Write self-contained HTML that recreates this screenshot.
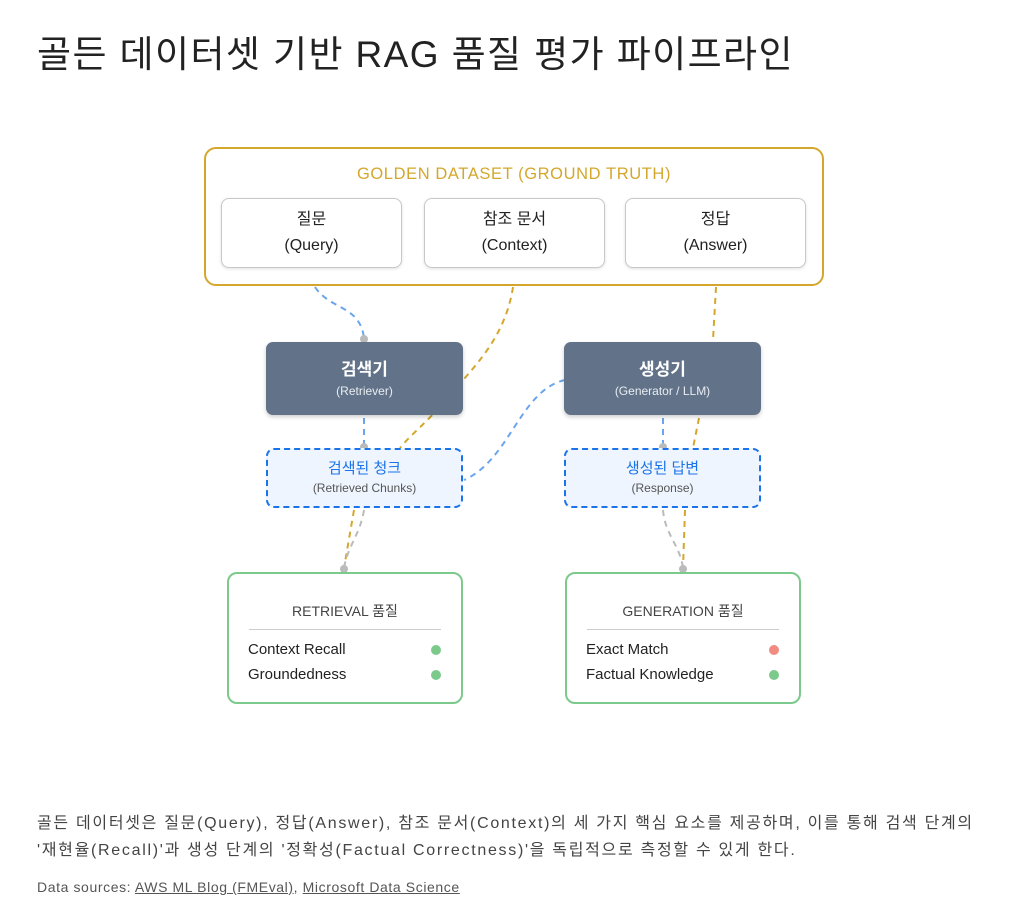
<!DOCTYPE html>
<html><head><meta charset="utf-8"><style>
*{margin:0;padding:0;box-sizing:border-box}
body{width:1024px;height:904px;background:#fff;position:relative;font-family:"Liberation Sans","Noto Sans CJK KR",sans-serif;overflow:hidden}
.a{position:absolute}
.c{text-align:center}
.inner{position:absolute;top:198px;width:181px;height:70px;border:1px solid #c8c8c8;border-radius:8px;background:#fff;text-align:center;font-size:16px;color:#222;line-height:26px;padding-top:8px;box-shadow:0 1px 3px rgba(0,0,0,.12)}
.dark{position:absolute;top:342px;width:197px;height:73px;background:#627389;border-radius:7px;color:#fff;text-align:center;box-shadow:0 2px 4px rgba(0,0,0,.2)}
.dark b{display:block;font-size:17px;margin-top:17px;line-height:22px}
.dark span{display:block;font-size:12px;margin-top:3px;color:#e8ecf2}
.out{position:absolute;top:448px;width:197px;height:60px;border:2px dashed #1a73e8;border-radius:8px;background:#eef5fe;text-align:center}
.out b{display:block;font-size:15px;color:#1a73e8;margin-top:9px;font-weight:normal;line-height:20px}
.out span{display:block;font-size:12px;color:#555;margin-top:2px}
.q{position:absolute;top:572px;height:132px;border:2px solid #7cc98c;border-radius:10px;background:#fff}
.q .t{position:absolute;top:27px;left:0;right:0;text-align:center;font-size:14px;color:#444}
.q .l{position:absolute;top:55px;left:20px;right:20px;height:1px;background:#ccc}
.q .i{position:absolute;left:19px;font-size:15px;color:#222}
.q .d{position:absolute;right:20px;width:10px;height:10px;border-radius:5px;background:#7cc98c}
</style></head><body>
<div class="a" style="left:37px;top:24px;font-size:37px;color:#222;letter-spacing:1.4px">골든 데이터셋 기반 RAG 품질 평가 파이프라인</div>

<svg class="a" style="left:0;top:0" width="1024" height="904">
<g fill="none" stroke-width="2" stroke-dasharray="6,5">
<path d="M315 287 C330 310 360 305 364 338" stroke="#6aa5ee"/>
<path d="M513 287 C505 340 470 370 455 390 C430 420 410 435 400 448" stroke="#d4a72c"/>
<path d="M716 287 L713 340" stroke="#d4a72c"/>
<path d="M364 418 L364 445" stroke="#6aa5ee"/>
<path d="M565 380 C520 390 510 460 464 480" stroke="#6aa5ee"/>
<path d="M663 418 L663 446" stroke="#6aa5ee"/>
<path d="M699 418 L693 448" stroke="#d4a72c"/>
<path d="M354 510 L344 568" stroke="#d4a72c"/>
<path d="M364 510 C360 535 348 545 344 568" stroke="#bbb"/>
<path d="M663 510 C665 535 680 545 683 568" stroke="#bbb"/>
<path d="M685 510 L683 568" stroke="#d4a72c"/>
</g>
<g fill="#bbb"><circle cx="364" cy="339" r="4"/><circle cx="364" cy="447" r="4"/><circle cx="663" cy="447" r="4"/><circle cx="344" cy="569" r="4"/><circle cx="683" cy="569" r="4"/></g>
</svg>

<div class="a" style="left:204px;top:147px;width:620px;height:139px;border:2px solid #d4a72c;border-radius:12px"></div>
<div class="a c" style="left:204px;top:165px;width:620px;font-size:16.5px;color:#d4a72c;letter-spacing:0.6px">GOLDEN DATASET (GROUND TRUTH)</div>
<div class="inner" style="left:221px">질문<br>(Query)</div>
<div class="inner" style="left:424px">참조 문서<br>(Context)</div>
<div class="inner" style="left:625px">정답<br>(Answer)</div>

<div class="dark" style="left:266px"><b>검색기</b><span>(Retriever)</span></div>
<div class="dark" style="left:564px"><b>생성기</b><span>(Generator / LLM)</span></div>

<div class="out" style="left:266px"><b>검색된 청크</b><span>(Retrieved Chunks)</span></div>
<div class="out" style="left:564px"><b>생성된 답변</b><span>(Response)</span></div>

<div class="q" style="left:227px;width:236px"><div class="t">RETRIEVAL 품질</div><div class="l"></div>
<div class="i" style="top:67px">Context Recall</div><div class="d" style="top:71px"></div>
<div class="i" style="top:92px">Groundedness</div><div class="d" style="top:96px"></div></div>
<div class="q" style="left:565px;width:236px"><div class="t">GENERATION 품질</div><div class="l"></div>
<div class="i" style="top:67px">Exact Match</div><div class="d" style="top:71px;background:#f28b82"></div>
<div class="i" style="top:92px">Factual Knowledge</div><div class="d" style="top:96px"></div></div>

<div class="a" style="left:37px;top:810px;font-size:16px;color:#444;line-height:27px;width:990px;letter-spacing:1.7px;white-space:nowrap">골든 데이터셋은 질문(Query), 정답(Answer), 참조 문서(Context)의 세 가지 핵심 요소를 제공하며, 이를 통해 검색 단계의<br>'재현율(Recall)'과 생성 단계의 '정확성(Factual Correctness)'을 독립적으로 측정할 수 있게 한다.</div>
<div class="a" style="left:37px;top:879px;font-size:14px;color:#555;letter-spacing:0.6px">Data sources: <u>AWS ML Blog (FMEval)</u>, <u>Microsoft Data Science</u></div>
</body></html>
